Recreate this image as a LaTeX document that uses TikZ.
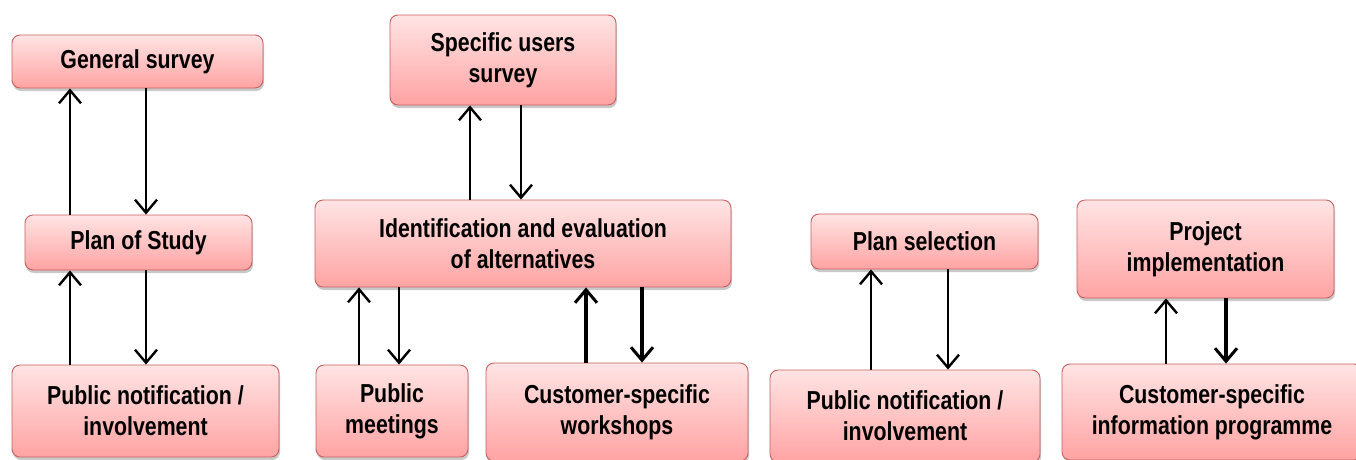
\documentclass[tikz,border=0pt]{standalone}
\usepackage{fontspec}
\setmainfont{Liberation Sans}[FakeStretch=0.82]
\usetikzlibrary{arrows.meta,shadows}
\definecolor{boxtop}{RGB}{255,228,228}
\definecolor{boxbot}{RGB}{255,163,163}
\definecolor{boxline}{RGB}{200,96,96}
\tikzset{
  stage/.style={draw=boxline, line width=0.9pt, rounded corners=8pt,
    top color=boxtop, bottom color=boxbot, inner sep=0pt, align=center,
    font=\fontsize{26}{31}\selectfont\bfseries,
    drop shadow={shadow xshift=1pt, shadow yshift=-3pt, opacity=0.35, fill=black!60}},
  flow/.style={line width=2.4pt, -{Straight Barb[length=13pt,width=22pt,line width=2.4pt]}},
  flowthick/.style={line width=3.2pt, -{Straight Barb[length=13pt,width=22pt,line width=3pt]}},
}
\begin{document}
\begin{tikzpicture}[x=1pt, y=-1pt]
\useasboundingbox[fill=white] (0,0) rectangle (1356,459);

% survey and study
\node[stage, minimum width=251pt, minimum height=53pt] (gs) at (137.5,61.5) {General survey};
\node[stage, minimum width=227pt, minimum height=55pt] (ps) at (138.5,242.5) {Plan of Study};
\node[stage, minimum width=267pt, minimum height=92pt] (pn1) at (145.5,411) {Public notification /\\involvement};

% alternatives
\node[stage, minimum width=226pt, minimum height=90pt] (sus) at (503,60) {Specific users\\survey};
\node[stage, minimum width=416pt, minimum height=87pt] (iea) at (523,243.5) {Identification and evaluation\\of alternatives};
\node[stage, minimum width=152pt, minimum height=92pt] (pm) at (392,411) {Public\\meetings};
\node[stage, minimum width=262pt, minimum height=98pt] (csw) at (617,412) {Customer-specific\\workshops};

% selection
\node[stage, minimum width=227pt, minimum height=55pt] (psel) at (924.5,241.5) {Plan selection};
\node[stage, minimum width=270pt, minimum height=92pt] (pn2) at (905,416) {Public notification /\\involvement};

% implementation
\node[stage, minimum width=257pt, minimum height=98pt] (pi) at (1205.5,249) {Project\\implementation};
\node[stage, minimum width=300pt, minimum height=96pt] (cip) at (1212,412) {Customer-specific\\information programme};

% feedback loops
\draw[flow] (ps.north -| 70,0) -- (gs.south -| 70,0);
\draw[flow] (gs.south -| 146,0) -- (ps.north -| 146,0);
\draw[flow] (pn1.north -| 70,0) -- (ps.south -| 70,0);
\draw[flow] (ps.south -| 146,0) -- (pn1.north -| 146,0);

\draw[flow] (iea.north -| 470,0) -- (sus.south -| 470,0);
\draw[flow] (sus.south -| 521,0) -- (iea.north -| 521,0);
\draw[flow] (pm.north -| 359,0) -- (iea.south -| 359,0);
\draw[flow] (iea.south -| 399,0) -- (pm.north -| 399,0);
\draw[flowthick] (csw.north -| 586,0) -- (iea.south -| 586,0);
\draw[flowthick] (iea.south -| 642,0) -- (csw.north -| 642,0);

\draw[flow] (pn2.north -| 871,0) -- (psel.south -| 871,0);
\draw[flow] (psel.south -| 948,0) -- (pn2.north -| 948,0);

\draw[flow] (cip.north -| 1166,0) -- (pi.south -| 1166,0);
\draw[flowthick] (pi.south -| 1226,0) -- (cip.north -| 1226,0);
\end{tikzpicture}
\end{document}
